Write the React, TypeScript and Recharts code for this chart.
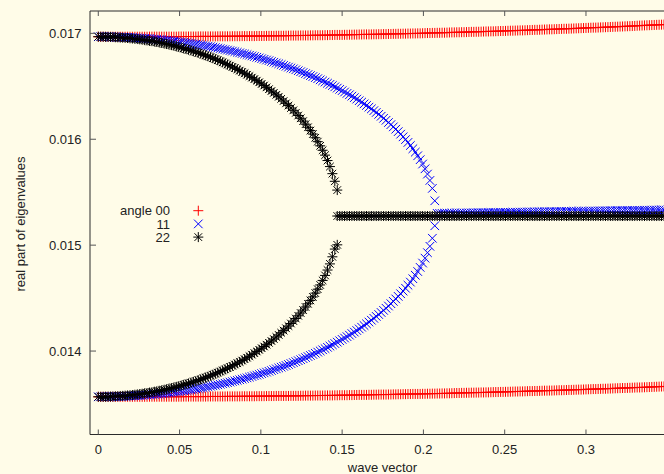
import { ScatterChart, Scatter, XAxis, YAxis } from 'recharts';

// wave vector samples, shared by every branch
const K = [
  0, 0.0015, 0.003, 0.0045, 0.006, 0.0075, 0.009, 0.0105, 0.012, 0.0135,
  0.015, 0.0165, 0.018, 0.0195, 0.021, 0.0225, 0.024, 0.0255, 0.027, 0.0285,
  0.03, 0.0315, 0.033, 0.0345, 0.036, 0.0375, 0.039, 0.0405, 0.042, 0.0435,
  0.045, 0.0465, 0.048, 0.0495, 0.051, 0.0525, 0.054, 0.0555, 0.057, 0.0585,
  0.06, 0.0615, 0.063, 0.0645, 0.066, 0.0675, 0.069, 0.0705, 0.072, 0.0735,
  0.075, 0.0765, 0.078, 0.0795, 0.081, 0.0825, 0.084, 0.0855, 0.087, 0.0885,
  0.09, 0.0915, 0.093, 0.0945, 0.096, 0.0975, 0.099, 0.1005, 0.102, 0.1035,
  0.105, 0.1065, 0.108, 0.1095, 0.111, 0.1125, 0.114, 0.1155, 0.117, 0.1185,
  0.12, 0.1215, 0.123, 0.1245, 0.126, 0.1275, 0.129, 0.1305, 0.132, 0.1335,
  0.135, 0.1365, 0.138, 0.1395, 0.141, 0.1425, 0.144, 0.1455, 0.147, 0.1485,
  0.15, 0.1515, 0.153, 0.1545, 0.156, 0.1575, 0.159, 0.1605, 0.162, 0.1635,
  0.165, 0.1665, 0.168, 0.1695, 0.171, 0.1725, 0.174, 0.1755, 0.177, 0.1785,
  0.18, 0.1815, 0.183, 0.1845, 0.186, 0.1875, 0.189, 0.1905, 0.192, 0.1935,
  0.195, 0.1965, 0.198, 0.1995, 0.201, 0.2025, 0.204, 0.2055, 0.207, 0.2085,
  0.21, 0.2115, 0.213, 0.2145, 0.216, 0.2175, 0.219, 0.2205, 0.222, 0.2235,
  0.225, 0.2265, 0.228, 0.2295, 0.231, 0.2325, 0.234, 0.2355, 0.237, 0.2385,
  0.24, 0.2415, 0.243, 0.2445, 0.246, 0.2475, 0.249, 0.2505, 0.252, 0.2535,
  0.255, 0.2565, 0.258, 0.2595, 0.261, 0.2625, 0.264, 0.2655, 0.267, 0.2685,
  0.27, 0.2715, 0.273, 0.2745, 0.276, 0.2775, 0.279, 0.2805, 0.282, 0.2835,
  0.285, 0.2865, 0.288, 0.2895, 0.291, 0.2925, 0.294, 0.2955, 0.297, 0.2985,
  0.3, 0.3015, 0.303, 0.3045, 0.306, 0.3075, 0.309, 0.3105, 0.312, 0.3135,
  0.315, 0.3165, 0.318, 0.3195, 0.321, 0.3225, 0.324, 0.3255, 0.327, 0.3285,
  0.33, 0.3315, 0.333, 0.3345, 0.336, 0.3375, 0.339, 0.3405, 0.342, 0.3435,
  0.345, 0.3465, 0.348,
];

// angle 00
const RED_UP = [
  0.016968, 0.016968, 0.016968, 0.016968, 0.016968, 0.016968, 0.016968, 0.016968, 0.016968, 0.016968,
  0.016968, 0.016968, 0.016968, 0.016968, 0.016968, 0.016968, 0.016968, 0.016968, 0.016968, 0.016968,
  0.016968, 0.016969, 0.016969, 0.016969, 0.016969, 0.016969, 0.016969, 0.016969, 0.016969, 0.016969,
  0.016969, 0.016969, 0.016969, 0.01697, 0.01697, 0.01697, 0.01697, 0.01697, 0.01697, 0.01697,
  0.01697, 0.016971, 0.016971, 0.016971, 0.016971, 0.016971, 0.016971, 0.016971, 0.016971, 0.016972,
  0.016972, 0.016972, 0.016972, 0.016972, 0.016972, 0.016973, 0.016973, 0.016973, 0.016973, 0.016974,
  0.016974, 0.016974, 0.016974, 0.016974, 0.016974, 0.016975, 0.016975, 0.016975, 0.016975, 0.016976,
  0.016976, 0.016976, 0.016976, 0.016977, 0.016977, 0.016977, 0.016977, 0.016978, 0.016978, 0.016979,
  0.016979, 0.016979, 0.016979, 0.01698, 0.01698, 0.01698, 0.01698, 0.016981, 0.016981, 0.016982,
  0.016982, 0.016982, 0.016982, 0.016983, 0.016983, 0.016984, 0.016984, 0.016985, 0.016985, 0.016985,
  0.016985, 0.016986, 0.016986, 0.016987, 0.016987, 0.016988, 0.016988, 0.016989, 0.016989, 0.01699,
  0.01699, 0.01699, 0.01699, 0.016991, 0.016991, 0.016992, 0.016992, 0.016993, 0.016993, 0.016994,
  0.016994, 0.016995, 0.016995, 0.016996, 0.016996, 0.016997, 0.016997, 0.016998, 0.016998, 0.016999,
  0.016999, 0.017, 0.017, 0.017001, 0.017002, 0.017003, 0.017003, 0.017004, 0.017004, 0.017005,
  0.017005, 0.017006, 0.017006, 0.017007, 0.017008, 0.017009, 0.017009, 0.01701, 0.01701, 0.017011,
  0.017011, 0.017012, 0.017013, 0.017014, 0.017014, 0.017015, 0.017015, 0.017016, 0.017017, 0.017018,
  0.017018, 0.017019, 0.017019, 0.01702, 0.017021, 0.017022, 0.017022, 0.017023, 0.017024, 0.017025,
  0.017025, 0.017026, 0.017027, 0.017028, 0.017028, 0.017029, 0.01703, 0.017031, 0.017032, 0.017033,
  0.017033, 0.017034, 0.017035, 0.017036, 0.017037, 0.017038, 0.017038, 0.017039, 0.01704, 0.017041,
  0.017042, 0.017043, 0.017043, 0.017044, 0.017045, 0.017046, 0.017047, 0.017048, 0.017049, 0.01705,
  0.017051, 0.017052, 0.017053, 0.017054, 0.017054, 0.017055, 0.017056, 0.017057, 0.017058, 0.017059,
  0.01706, 0.017061, 0.017062, 0.017063, 0.017064, 0.017065, 0.017066, 0.017067, 0.017068, 0.017069,
  0.01707, 0.017072, 0.017073, 0.017074, 0.017075, 0.017076, 0.017077, 0.017078, 0.017079, 0.01708,
  0.017081, 0.017082, 0.017083,
];
const RED_LO = [
  0.013568, 0.013568, 0.013568, 0.013568, 0.013568, 0.013568, 0.013568, 0.013568, 0.013568, 0.013568,
  0.013568, 0.013568, 0.013568, 0.013568, 0.013568, 0.013568, 0.013568, 0.013568, 0.013568, 0.013568,
  0.013568, 0.013569, 0.013569, 0.013569, 0.013569, 0.013569, 0.013569, 0.013569, 0.013569, 0.013569,
  0.013569, 0.013569, 0.013569, 0.013569, 0.013569, 0.01357, 0.01357, 0.01357, 0.01357, 0.01357,
  0.01357, 0.01357, 0.01357, 0.01357, 0.01357, 0.013571, 0.013571, 0.013571, 0.013571, 0.013571,
  0.013571, 0.013571, 0.013571, 0.013572, 0.013572, 0.013572, 0.013572, 0.013572, 0.013572, 0.013573,
  0.013573, 0.013573, 0.013573, 0.013573, 0.013573, 0.013574, 0.013574, 0.013574, 0.013574, 0.013575,
  0.013575, 0.013575, 0.013575, 0.013576, 0.013576, 0.013576, 0.013576, 0.013576, 0.013576, 0.013577,
  0.013577, 0.013577, 0.013577, 0.013578, 0.013578, 0.013579, 0.013579, 0.013579, 0.013579, 0.01358,
  0.01358, 0.01358, 0.01358, 0.013581, 0.013581, 0.013581, 0.013581, 0.013582, 0.013582, 0.013583,
  0.013583, 0.013583, 0.013583, 0.013584, 0.013584, 0.013585, 0.013585, 0.013586, 0.013586, 0.013586,
  0.013586, 0.013587, 0.013587, 0.013588, 0.013588, 0.013589, 0.013589, 0.013589, 0.013589, 0.01359,
  0.01359, 0.013591, 0.013591, 0.013592, 0.013592, 0.013593, 0.013593, 0.013594, 0.013594, 0.013595,
  0.013595, 0.013595, 0.013595, 0.013596, 0.013596, 0.013597, 0.013597, 0.013598, 0.013598, 0.013599,
  0.013599, 0.0136, 0.0136, 0.013601, 0.013601, 0.013602, 0.013603, 0.013604, 0.013604, 0.013605,
  0.013605, 0.013606, 0.013606, 0.013607, 0.013607, 0.013608, 0.013608, 0.013609, 0.013609, 0.01361,
  0.01361, 0.013611, 0.013612, 0.013613, 0.013613, 0.013614, 0.013614, 0.013615, 0.013615, 0.013616,
  0.013617, 0.013618, 0.013618, 0.013619, 0.013619, 0.01362, 0.013621, 0.013622, 0.013622, 0.013623,
  0.013623, 0.013624, 0.013625, 0.013626, 0.013626, 0.013627, 0.013627, 0.013628, 0.013629, 0.01363,
  0.01363, 0.013631, 0.013632, 0.013633, 0.013633, 0.013634, 0.013635, 0.013636, 0.013636, 0.013637,
  0.013638, 0.013639, 0.01364, 0.013641, 0.013641, 0.013642, 0.013643, 0.013644, 0.013644, 0.013645,
  0.013646, 0.013647, 0.013648, 0.013649, 0.01365, 0.013651, 0.013651, 0.013652, 0.013653, 0.013654,
  0.013655, 0.013656, 0.013656, 0.013657, 0.013658, 0.013659, 0.01366, 0.013661, 0.013662, 0.013663,
  0.013664, 0.013665, 0.013666,
];

// angle 11: two branches up to the branch point, then one merged branch
const BLUE_UP = [
  0.016968, 0.016968, 0.016968, 0.016967, 0.016967, 0.016966, 0.016966, 0.016965, 0.016965, 0.016964,
  0.016964, 0.016963, 0.016962, 0.016961, 0.01696, 0.016958, 0.016957, 0.016955, 0.016954, 0.016952,
  0.016951, 0.016949, 0.016947, 0.016945, 0.016943, 0.016941, 0.016939, 0.016936, 0.016934, 0.016931,
  0.016929, 0.016926, 0.016923, 0.01692, 0.016917, 0.016914, 0.016911, 0.016907, 0.016904, 0.0169,
  0.016897, 0.016893, 0.01689, 0.016886, 0.016882, 0.016878, 0.016874, 0.01687, 0.016866, 0.016861,
  0.016856, 0.016851, 0.016847, 0.016842, 0.016837, 0.016832, 0.016827, 0.016821, 0.016816, 0.01681,
  0.016805, 0.016799, 0.016793, 0.016787, 0.016781, 0.016774, 0.016768, 0.016761, 0.016755, 0.016748,
  0.016742, 0.016734, 0.016727, 0.01672, 0.016713, 0.016705, 0.016697, 0.016689, 0.016681, 0.016673,
  0.016665, 0.016656, 0.016647, 0.016638, 0.01663, 0.01662, 0.016611, 0.016601, 0.016592, 0.016582,
  0.016572, 0.016561, 0.016551, 0.01654, 0.016529, 0.016518, 0.016507, 0.016495, 0.016483, 0.016471,
  0.016459, 0.016446, 0.016433, 0.01642, 0.016407, 0.016393, 0.016379, 0.016364, 0.01635, 0.016334,
  0.016319, 0.016303, 0.016287, 0.01627, 0.016253, 0.016235, 0.016217, 0.016198, 0.016179, 0.016158,
  0.016138, 0.016117, 0.016095, 0.016072, 0.016048, 0.016023, 0.015997, 0.01597, 0.015941, 0.01591,
  0.015878, 0.015844, 0.015807, 0.015766, 0.015721, 0.015671, 0.015611, 0.015536,
  0.015419,
];
const BLUE_LO = [
  0.013568, 0.013568, 0.013568, 0.013568, 0.013569, 0.013569, 0.01357, 0.01357, 0.013571, 0.013571,
  0.013572, 0.013573, 0.013575, 0.013576, 0.013577, 0.013578, 0.01358, 0.013581, 0.013583, 0.013584,
  0.013586, 0.013588, 0.01359, 0.013592, 0.013594, 0.013596, 0.013599, 0.013601, 0.013604, 0.013607,
  0.01361, 0.013612, 0.013615, 0.013618, 0.013622, 0.013625, 0.013628, 0.013631, 0.013635, 0.013639,
  0.013643, 0.013646, 0.01365, 0.013654, 0.013659, 0.013663, 0.013668, 0.013672, 0.013677, 0.013681,
  0.013686, 0.013691, 0.013696, 0.013701, 0.013707, 0.013712, 0.013718, 0.013723, 0.013729, 0.013735,
  0.013741, 0.013747, 0.013754, 0.01376, 0.013767, 0.013773, 0.01378, 0.013787, 0.013794, 0.013801,
  0.013809, 0.013816, 0.013824, 0.013832, 0.01384, 0.013848, 0.013856, 0.013864, 0.013873, 0.013882,
  0.013891, 0.0139, 0.013909, 0.013918, 0.013928, 0.013938, 0.013948, 0.013958, 0.013968, 0.013979,
  0.01399, 0.014001, 0.014012, 0.014023, 0.014035, 0.014047, 0.014059, 0.014071, 0.014084, 0.014097,
  0.01411, 0.014123, 0.014136, 0.01415, 0.014165, 0.014179, 0.014194, 0.014209, 0.014225, 0.014241,
  0.014257, 0.014274, 0.014291, 0.014309, 0.014327, 0.014345, 0.014364, 0.014384, 0.014404, 0.014425,
  0.014447, 0.014469, 0.014492, 0.014516, 0.014541, 0.014566, 0.014593, 0.014622, 0.014651, 0.014683,
  0.014716, 0.014751, 0.01479, 0.014831, 0.014877, 0.014929, 0.014989, 0.015065,
  0.015183,
];
// the last samples of K, after the branch point
const BLUE_MID = [
  0.0153, 0.0153, 0.0153, 0.015301, 0.015301, 0.015301, 0.015302, 0.015302, 0.015302, 0.015303,
  0.015303, 0.015303, 0.015304, 0.015304, 0.015304, 0.015305, 0.015305, 0.015306, 0.015306, 0.015306,
  0.015307, 0.015307, 0.015307, 0.015308, 0.015308, 0.015308, 0.015309, 0.015309, 0.015309, 0.01531,
  0.01531, 0.01531, 0.015311, 0.015311, 0.015312, 0.015312, 0.015312, 0.015313, 0.015313, 0.015313,
  0.015314, 0.015314, 0.015314, 0.015315, 0.015315, 0.015315, 0.015316, 0.015316, 0.015316, 0.015317,
  0.015317, 0.015318, 0.015318, 0.015318, 0.015319, 0.015319, 0.015319, 0.01532, 0.01532, 0.01532,
  0.015321, 0.015321, 0.015321, 0.015322, 0.015322, 0.015322, 0.015323, 0.015323, 0.015324, 0.015324,
  0.015324, 0.015325, 0.015325, 0.015325, 0.015326, 0.015326, 0.015326, 0.015327, 0.015327, 0.015327,
  0.015328, 0.015328, 0.015328, 0.015329, 0.015329, 0.01533, 0.01533, 0.01533, 0.015331, 0.015331,
  0.015331, 0.015332, 0.015332, 0.015332,
];

// angle 22
const BLACK_UP = [
  0.016968, 0.016968, 0.016968, 0.016967, 0.016967, 0.016966, 0.016965, 0.016963, 0.016962, 0.01696,
  0.016959, 0.016957, 0.016956, 0.016953, 0.016951, 0.016948, 0.016946, 0.016943, 0.01694, 0.016936,
  0.016933, 0.016929, 0.016926, 0.016922, 0.016918, 0.016913, 0.016909, 0.016904, 0.016899, 0.016894,
  0.016889, 0.016883, 0.016877, 0.016871, 0.016865, 0.016858, 0.016852, 0.016845, 0.016839, 0.016831,
  0.016824, 0.016816, 0.016809, 0.0168, 0.016792, 0.016783, 0.016775, 0.016765, 0.016756, 0.016746,
  0.016737, 0.016726, 0.016716, 0.016705, 0.016695, 0.016683, 0.016672, 0.01666, 0.016648, 0.016635,
  0.016623, 0.016609, 0.016596, 0.016582, 0.016568, 0.016553, 0.016538, 0.016522, 0.016507, 0.01649,
  0.016473, 0.016455, 0.016438, 0.016419, 0.016401, 0.016381, 0.016361, 0.016339, 0.016318, 0.016295,
  0.016273, 0.016249, 0.016224, 0.016198, 0.016171, 0.016142, 0.016113, 0.016082, 0.016049, 0.016014,
  0.015977, 0.015938, 0.015896, 0.01585, 0.015799, 0.015742, 0.015675, 0.015603,
  0.01552,
];
const BLACK_LO = [
  0.013568, 0.013568, 0.013568, 0.013569, 0.013569, 0.01357, 0.013571, 0.013573, 0.013574, 0.013576,
  0.013577, 0.013579, 0.013581, 0.013583, 0.013585, 0.013588, 0.013591, 0.013594, 0.013597, 0.013601,
  0.013604, 0.013608, 0.013611, 0.013616, 0.01362, 0.013625, 0.013629, 0.013634, 0.013639, 0.013645,
  0.01365, 0.013656, 0.013661, 0.013668, 0.013674, 0.013681, 0.013687, 0.013694, 0.013701, 0.013709,
  0.013716, 0.013724, 0.013732, 0.013741, 0.013749, 0.013758, 0.013767, 0.013777, 0.013786, 0.013796,
  0.013806, 0.013817, 0.013827, 0.013838, 0.013849, 0.013861, 0.013873, 0.013885, 0.013897, 0.01391,
  0.013923, 0.013937, 0.013951, 0.013966, 0.01398, 0.013996, 0.014011, 0.014027, 0.014043, 0.01406,
  0.014077, 0.014095, 0.014113, 0.014133, 0.014152, 0.014173, 0.014193, 0.014215, 0.014236, 0.01426,
  0.014283, 0.014307, 0.014333, 0.014359, 0.014387, 0.014416, 0.014446, 0.014478, 0.014511, 0.014547,
  0.014584, 0.014624, 0.014667, 0.014714, 0.014765, 0.014823, 0.01489, 0.014963,
  0.015003,
];
// the last samples of K, from the branch point on
const BLACK_MID = [
  0.015275, 0.015275, 0.015275, 0.015275, 0.015275, 0.015275, 0.015275, 0.015275, 0.015275, 0.015275, 0.015275, 0.015275, 0.015275, 0.015275, 0.015275,
  0.015275, 0.015275, 0.015275, 0.015275, 0.015275, 0.015275, 0.015275, 0.015275, 0.015275, 0.015275, 0.015275, 0.015275, 0.015275, 0.015275, 0.015275,
  0.015275, 0.015275, 0.015275, 0.015275, 0.015275, 0.015275, 0.015275, 0.015275, 0.015275, 0.015275, 0.015275, 0.015275, 0.015275, 0.015275, 0.015275,
  0.015275, 0.015275, 0.015275, 0.015275, 0.015275, 0.015275, 0.015275, 0.015275, 0.015275, 0.015275, 0.015275, 0.015275, 0.015275, 0.015275, 0.015275,
  0.015275, 0.015275, 0.015275, 0.015275, 0.015275, 0.015275, 0.015275, 0.015275, 0.015275, 0.015275, 0.015275, 0.015275, 0.015275, 0.015275, 0.015275,
  0.015275, 0.015275, 0.015275, 0.015275, 0.015275, 0.015275, 0.015275, 0.015275, 0.015275, 0.015275, 0.015275, 0.015275, 0.015275, 0.015275, 0.015275,
  0.015275, 0.015275, 0.015275, 0.015275, 0.015275, 0.015275, 0.015275, 0.015275, 0.015275, 0.015275, 0.015275, 0.015275, 0.015275, 0.015275, 0.015275,
  0.015275, 0.015275, 0.015275, 0.015275, 0.015275, 0.015275, 0.015275, 0.015275, 0.015275, 0.015275, 0.015275, 0.015275, 0.015275, 0.015275, 0.015275,
  0.015275, 0.015275, 0.015275, 0.015275, 0.015275, 0.015275, 0.015275, 0.015275, 0.015275, 0.015275, 0.015275, 0.015275, 0.015275, 0.015275, 0.015275,
];

const X_TICKS = [0, 0.05, 0.1, 0.15, 0.2, 0.25, 0.3];
const Y_TICKS = [0.014, 0.015, 0.016, 0.017];
const LEGEND = ['angle 00', '11', '22'];

const W = 664;
const H = 474;
const BG = '#fffce8';
const FONT = '"Liberation Sans", Arial, sans-serif';
const AXIS = '#2b2b2b';
const TICK = '#555';

const fromStart = (vals: number[]) => vals.map((v, i) => ({ k: K[i], v }));
const fromEnd = (vals: number[]) => {
  const off = K.length - vals.length;
  return vals.map((v, i) => ({ k: K[off + i], v }));
};

const red = [...fromStart(RED_UP), ...fromStart(RED_LO)];
const blue = [...fromStart(BLUE_UP), ...fromStart(BLUE_LO), ...fromEnd(BLUE_MID)];
const black = [...fromStart(BLACK_UP), ...fromStart(BLACK_LO), ...fromEnd(BLACK_MID)];

function plusPath(x: number, y: number, r: number) {
  return `M${x - r},${y}H${x + r}M${x},${y - r}V${y + r}`;
}
function crossPath(x: number, y: number, r: number) {
  return `M${x - r},${y - r}L${x + r},${y + r}M${x - r},${y + r}L${x + r},${y - r}`;
}

const MARKS = [
  { color: '#ff0000', d: (x: number, y: number) => plusPath(x, y, 5) },
  { color: '#0000ff', d: (x: number, y: number) => crossPath(x, y, 4.3) },
  { color: '#000000', d: (x: number, y: number) => plusPath(x, y, 5) + crossPath(x, y, 3.8) },
];

const shapeFor = (m: (typeof MARKS)[number]) => (p: any) =>
  <path d={m.d(p.cx, p.cy)} stroke={m.color} strokeWidth={1} fill="none" />;

const XTick = (p: any) => (
  <g>
    <line x1={p.x} x2={p.x} y1={p.y} y2={p.y - 5} stroke={TICK} />
    <text x={p.x} y={p.y + 19.5} textAnchor="middle" fontSize={13} fontFamily={FONT} fill="#222">
      {String(p.payload.value)}
    </text>
  </g>
);
const TopTick = (p: any) => <line x1={p.x} x2={p.x} y1={p.y} y2={p.y + 5} stroke={TICK} />;
const YTick = (p: any) => (
  <g>
    <line x1={p.x} x2={p.x + 6} y1={p.y} y2={p.y} stroke={TICK} />
    <text x={p.x - 8.5} y={p.y + 4.5} textAnchor="end" fontSize={13} fontFamily={FONT} fill="#222">
      {String(p.payload.value)}
    </text>
  </g>
);

export default function App() {
  return (
    <div style={{ position: 'absolute', left: 0, top: 0, width: W, height: H, background: BG, overflow: 'hidden' }}>
      <ScatterChart width={W} height={H} margin={{ top: 10, right: 0, bottom: 0, left: 0 }}>
        <XAxis
          xAxisId="b"
          type="number"
          dataKey="k"
          domain={[-0.0051, 0.348]}
          allowDataOverflow
          ticks={X_TICKS}
          interval={0}
          tickSize={0}
          tickMargin={0}
          tick={XTick}
          axisLine={{ stroke: AXIS }}
          height={39.5}
        />
        <XAxis
          xAxisId="t"
          orientation="top"
          type="number"
          dataKey="k"
          domain={[-0.0051, 0.348]}
          allowDataOverflow
          ticks={X_TICKS}
          interval={0}
          tickSize={0}
          tickMargin={0}
          tick={TopTick}
          axisLine={{ stroke: AXIS }}
          height={1}
        />
        <YAxis
          yAxisId="l"
          type="number"
          dataKey="v"
          domain={[0.013212, 0.017211]}
          allowDataOverflow
          ticks={Y_TICKS}
          interval={0}
          tickSize={0}
          tickMargin={0}
          tick={YTick}
          axisLine={{ stroke: AXIS }}
          width={90}
        />
        <Scatter xAxisId="b" yAxisId="l" data={red} dataKey="v" shape={shapeFor(MARKS[0])} isAnimationActive={false} />
        <Scatter xAxisId="b" yAxisId="l" data={blue} dataKey="v" shape={shapeFor(MARKS[1])} isAnimationActive={false} />
        <Scatter xAxisId="b" yAxisId="l" data={black} dataKey="v" shape={shapeFor(MARKS[2])} isAnimationActive={false} />
      </ScatterChart>
      <svg width={W} height={H} style={{ position: 'absolute', left: 0, top: 0, pointerEvents: 'none' }}>
        <g fontFamily={FONT} fontSize={13} fill="#222">
          {LEGEND.map((label, i) => (
            <g key={label}>
              <text x={170} y={215.3 + i * 13.2} textAnchor="end">{label}</text>
              <path d={MARKS[i].d(198.3, 210.7 + i * 13.2)} stroke={MARKS[i].color} strokeWidth={1} fill="none" />
            </g>
          ))}
          <text x={382.5} y={472} textAnchor="middle">wave vector</text>
          <text x={24.5} y={224} textAnchor="middle" transform="rotate(-90 24.5 224)">real part of eigenvalues</text>
        </g>
      </svg>
    </div>
  );
}
